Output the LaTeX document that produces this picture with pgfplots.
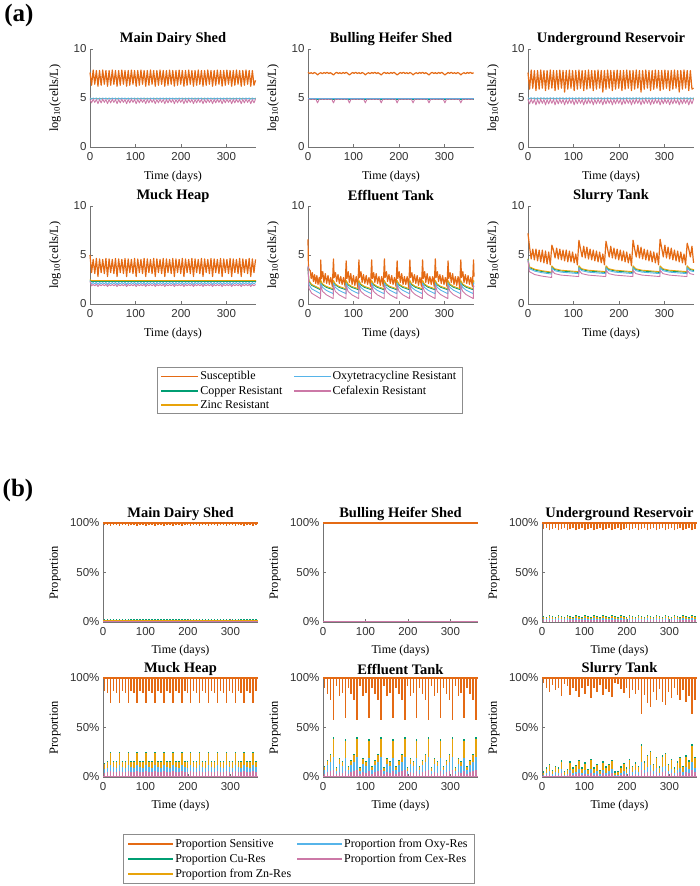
\documentclass[border=0pt]{standalone}
\usepackage{fontspec}
\setmainfont{Liberation Serif}
\newfontfamily\tickfont{Liberation Sans}
\usepackage{pgfplots}
\usepackage{pgfplotstable}
\pgfplotsset{compat=1.18}

\definecolor{cS}{RGB}{228,106,20}
\definecolor{cCu}{RGB}{0,158,115}
\definecolor{cZn}{RGB}{232,163,10}
\definecolor{cOx}{RGB}{86,180,233}
\definecolor{cCx}{RGB}{204,121,167}

% (a) weekly cycles: Main Dairy Shed (a*), Bulling Heifer (b*), Underground (u*), Muck Heap (h*), Slurry susceptible (sS)
\pgfplotstableread{
t aS aO aC bS bC uS uO uC hS hO hC sS
0 7.6 5.0 4.85 7.62 4.88 7.6 5.02 4.85 5.0 2.35 2.3 7.2
3.5 6.3 4.88 4.5 7.5 4.86 5.9 4.9 4.4 3.2 2.05 1.85 5.8
7 7.85 5.0 4.88 7.58 4.88 7.85 5.03 4.88 4.55 2.2 2.0 4.6
10.5 6.4 4.9 4.55 7.48 4.86 6.0 4.92 4.45 3.1 2.05 1.85 5.6
14 7.8 5.0 4.85 7.6 4.88 7.8 5.02 4.85 4.65 2.22 2.02 4.5
17.5 6.2 4.86 4.42 7.52 4.86 5.75 4.88 4.3 2.8 2.0 1.78 5.6
21 7.8 5.0 4.85 7.35 4.5 7.8 5.02 4.85 4.6 2.2 2.0 4.4
24.5 6.3 4.88 4.5 7.5 4.86 5.9 4.9 4.4 3.2 2.05 1.85 5.5
28 7.85 5.0 4.88 7.58 4.88 7.85 5.03 4.88 4.55 2.2 2.0 4.3
31.5 6.4 4.9 4.55 7.48 4.86 6.0 4.92 4.45 3.1 2.05 1.85 5.5
35 7.8 5.0 4.85 7.6 4.88 7.8 5.02 4.85 4.65 2.22 2.02 4.2
38.5 6.2 4.86 4.42 7.52 4.86 5.75 4.88 4.3 2.8 2.0 1.78 5.4
42 7.8 5.0 4.85 7.62 4.88 7.8 5.02 4.85 4.6 2.2 2.0 4.1
45.5 6.3 4.88 4.5 7.5 4.86 5.9 4.9 4.4 3.2 2.05 1.85 5.3
49 7.85 5.0 4.88 7.58 4.88 7.85 5.03 4.88 4.55 2.2 2.0 4.0
52.5 6.4 4.9 4.55 7.48 4.86 6.0 4.92 4.45 3.1 2.05 1.85 6.0
56 7.8 5.0 4.85 7.35 4.5 7.8 5.02 4.85 4.65 2.22 2.02 5.5
59.5 6.2 4.86 4.42 7.52 4.86 5.75 4.88 4.3 2.8 2.0 1.78 4.7
63 7.8 5.0 4.85 7.62 4.88 7.8 5.02 4.85 4.6 2.2 2.0 5.7
66.5 6.3 4.88 4.5 7.5 4.86 5.9 4.9 4.4 3.2 2.05 1.85 4.6
70 7.85 5.0 4.88 7.58 4.88 7.85 5.03 4.88 4.55 2.2 2.0 5.6
73.5 6.4 4.9 4.55 7.48 4.86 6.0 4.92 4.45 3.1 2.05 1.85 4.5
77 7.8 5.0 4.85 7.6 4.88 7.8 5.02 4.85 4.65 2.22 2.02 5.5
80.5 6.2 4.86 4.42 7.52 4.86 5.6 4.88 4.3 2.8 2.0 1.78 4.4
84 7.8 5.0 4.85 7.62 4.88 7.8 5.02 4.85 4.6 2.2 2.0 5.5
87.5 6.3 4.88 4.5 7.5 4.86 5.9 4.9 4.4 3.2 2.05 1.85 4.3
91 7.85 5.0 4.88 7.35 4.5 7.85 5.03 4.88 4.55 2.2 2.0 5.4
94.5 6.4 4.9 4.55 7.48 4.86 6.0 4.92 4.45 3.1 2.05 1.85 4.3
98 7.8 5.0 4.85 7.6 4.88 7.8 5.02 4.85 4.65 2.22 2.02 5.3
101.5 6.2 4.86 4.42 7.52 4.86 5.75 4.88 4.3 2.8 2.0 1.78 4.2
105 7.8 5.0 4.85 7.62 4.88 7.8 5.02 4.85 4.6 2.2 2.0 5.1
108.5 6.3 4.88 4.5 7.5 4.86 5.9 4.9 4.4 3.2 2.05 1.85 4.0
112 7.85 5.0 4.88 7.58 4.88 7.85 5.03 4.88 4.55 2.2 2.0 6.5
115.5 6.4 4.9 4.55 7.48 4.86 6.0 4.92 4.45 3.1 2.05 1.85 5.6
119 7.8 5.0 4.85 7.6 4.88 7.8 5.02 4.85 4.65 2.22 2.02 4.8
122.5 6.2 4.86 4.42 7.52 4.86 5.75 4.88 4.3 2.8 2.0 1.78 5.9
126 7.8 5.0 4.85 7.35 4.5 7.8 5.02 4.85 4.6 2.2 2.0 4.7
129.5 6.3 4.88 4.5 7.5 4.86 5.9 4.9 4.4 3.2 2.05 1.85 5.8
133 7.85 5.0 4.88 7.58 4.88 7.85 5.03 4.88 4.55 2.2 2.0 4.6
136.5 6.4 4.9 4.55 7.48 4.86 6.0 4.92 4.45 3.1 2.05 1.85 5.6
140 7.8 5.0 4.85 7.6 4.88 7.8 5.02 4.85 4.65 2.22 2.02 4.5
143.5 6.2 4.86 4.42 7.52 4.86 5.75 4.88 4.3 2.8 2.0 1.78 5.5
147 7.8 5.0 4.85 7.62 4.88 7.8 5.02 4.85 4.6 2.2 2.0 4.4
150.5 6.3 4.88 4.5 7.5 4.86 5.9 4.9 4.4 3.2 2.05 1.85 5.4
154 7.85 5.0 4.88 7.58 4.88 7.85 5.03 4.88 4.55 2.2 2.0 4.3
157.5 6.4 4.9 4.55 7.48 4.86 6.0 4.92 4.45 3.1 2.05 1.85 5.3
161 7.8 5.0 4.85 7.35 4.5 7.8 5.02 4.85 4.65 2.22 2.02 4.2
164.5 6.2 4.86 4.42 7.52 4.86 5.6 4.88 4.3 2.8 2.0 1.78 5.1
168 7.8 5.0 4.85 7.62 4.88 7.8 5.02 4.85 4.6 2.2 2.0 4.0
171.5 6.3 4.88 4.5 7.5 4.86 5.9 4.9 4.4 3.2 2.05 1.85 6.4
175 7.85 5.0 4.88 7.58 4.88 7.85 5.03 4.88 4.55 2.2 2.0 5.6
178.5 6.4 4.9 4.55 7.48 4.86 6.0 4.92 4.45 3.1 2.05 1.85 4.8
182 7.8 5.0 4.85 7.6 4.88 7.8 5.02 4.85 4.65 2.22 2.02 5.9
185.5 6.2 4.86 4.42 7.52 4.86 5.75 4.88 4.3 2.8 2.0 1.78 4.7
189 7.8 5.0 4.85 7.62 4.88 7.8 5.02 4.85 4.6 2.2 2.0 5.7
192.5 6.3 4.88 4.5 7.5 4.86 5.9 4.9 4.4 3.2 2.05 1.85 4.6
196 7.85 5.0 4.88 7.35 4.5 7.85 5.03 4.88 4.55 2.2 2.0 5.6
199.5 6.4 4.9 4.55 7.48 4.86 6.0 4.92 4.45 3.1 2.05 1.85 4.5
203 7.8 5.0 4.85 7.6 4.88 7.8 5.02 4.85 4.65 2.22 2.02 5.5
206.5 6.2 4.86 4.42 7.52 4.86 5.75 4.88 4.3 2.8 2.0 1.78 4.4
210 7.8 5.0 4.85 7.62 4.88 7.8 5.02 4.85 4.6 2.2 2.0 5.4
213.5 6.3 4.88 4.5 7.5 4.86 5.9 4.9 4.4 3.2 2.05 1.85 4.3
217 7.85 5.0 4.88 7.58 4.88 7.85 5.03 4.88 4.55 2.2 2.0 5.3
220.5 6.4 4.9 4.55 7.48 4.86 6.0 4.92 4.45 3.1 2.05 1.85 4.2
224 7.8 5.0 4.85 7.6 4.88 7.8 5.02 4.85 4.65 2.22 2.02 5.1
227.5 6.2 4.86 4.42 7.52 4.86 5.75 4.88 4.3 2.8 2.0 1.78 3.9
231 7.8 5.0 4.85 7.35 4.5 7.8 5.02 4.85 4.6 2.2 2.0 6.5
234.5 6.3 4.88 4.5 7.5 4.86 5.9 4.9 4.4 3.2 2.05 1.85 5.6
238 7.85 5.0 4.88 7.58 4.88 7.85 5.03 4.88 4.55 2.2 2.0 4.8
241.5 6.4 4.9 4.55 7.48 4.86 6.0 4.92 4.45 3.1 2.05 1.85 6.0
245 7.8 5.0 4.85 7.6 4.88 7.8 5.02 4.85 4.65 2.22 2.02 4.7
248.5 6.2 4.86 4.42 7.52 4.86 5.6 4.88 4.3 2.8 2.0 1.78 5.8
252 7.8 5.0 4.85 7.62 4.88 7.8 5.02 4.85 4.6 2.2 2.0 4.6
255.5 6.3 4.88 4.5 7.5 4.86 5.9 4.9 4.4 3.2 2.05 1.85 5.6
259 7.85 5.0 4.88 7.58 4.88 7.85 5.03 4.88 4.55 2.2 2.0 4.5
262.5 6.4 4.9 4.55 7.48 4.86 6.0 4.92 4.45 3.1 2.05 1.85 5.5
266 7.8 5.0 4.85 7.35 4.5 7.8 5.02 4.85 4.65 2.22 2.02 4.4
269.5 6.2 4.86 4.42 7.52 4.86 5.75 4.88 4.3 2.8 2.0 1.78 5.4
273 7.8 5.0 4.85 7.62 4.88 7.8 5.02 4.85 4.6 2.2 2.0 4.3
276.5 6.3 4.88 4.5 7.5 4.86 5.9 4.9 4.4 3.2 2.05 1.85 5.3
280 7.85 5.0 4.88 7.58 4.88 7.85 5.03 4.88 4.55 2.2 2.0 4.2
283.5 6.4 4.9 4.55 7.48 4.86 6.0 4.92 4.45 3.1 2.05 1.85 5.2
287 7.8 5.0 4.85 7.6 4.88 7.8 5.02 4.85 4.65 2.22 2.02 4.0
290.5 6.2 4.86 4.42 7.52 4.86 5.75 4.88 4.3 2.8 2.0 1.78 6.6
294 7.8 5.0 4.85 7.62 4.88 7.8 5.02 4.85 4.6 2.2 2.0 5.7
297.5 6.3 4.88 4.5 7.5 4.86 5.9 4.9 4.4 3.2 2.05 1.85 4.8
301 7.85 5.0 4.88 7.35 4.5 7.85 5.03 4.88 4.55 2.2 2.0 6.0
304.5 6.4 4.9 4.55 7.48 4.86 6.0 4.92 4.45 3.1 2.05 1.85 4.7
308 7.8 5.0 4.85 7.6 4.88 7.8 5.02 4.85 4.65 2.22 2.02 5.8
311.5 6.2 4.86 4.42 7.52 4.86 5.75 4.88 4.3 2.8 2.0 1.78 4.6
315 7.8 5.0 4.85 7.62 4.88 7.8 5.02 4.85 4.6 2.2 2.0 5.7
318.5 6.3 4.88 4.5 7.5 4.86 5.9 4.9 4.4 3.2 2.05 1.85 4.5
322 7.85 5.0 4.88 7.58 4.88 7.85 5.03 4.88 4.55 2.2 2.0 5.5
325.5 6.4 4.9 4.55 7.48 4.86 6.0 4.92 4.45 3.1 2.05 1.85 4.4
329 7.8 5.0 4.85 7.6 4.88 7.8 5.02 4.85 4.65 2.22 2.02 5.4
332.5 6.2 4.86 4.42 7.52 4.86 5.6 4.88 4.3 2.8 2.0 1.78 4.3
336 7.8 5.0 4.85 7.35 4.5 7.8 5.02 4.85 4.6 2.2 2.0 5.3
339.5 6.3 4.88 4.5 7.5 4.86 5.9 4.9 4.4 3.2 2.05 1.85 4.2
343 7.85 5.0 4.88 7.58 4.88 7.85 5.03 4.88 4.55 2.2 2.0 5.1
346.5 6.4 4.9 4.55 7.48 4.86 6.0 4.92 4.45 3.1 2.05 1.85 4.0
350 7.8 5.0 4.85 7.6 4.88 7.8 5.02 4.85 4.65 2.22 2.02 6.2
353.5 6.2 4.86 4.42 7.52 4.86 5.75 4.88 4.3 2.8 2.0 1.78 5.6
357 7.8 5.0 4.85 7.62 4.88 7.8 5.02 4.85 4.6 2.2 2.0 4.8
360.5 6.3 4.88 4.5 7.5 4.86 5.9 4.9 4.4 3.2 2.05 1.85 5.9
364 6.8 5.0 4.88 7.58 4.88 6.0 5.03 4.88 4.55 2.2 2.0 4.2
}\tabA

% Effluent tank, resistant strains (4-week refills)
\pgfplotstableread{
t Cu Zn Ox Cx
0 3.7 3.7 3.8 3.9
2 2.3 2.4 2.0 1.6
8 1.9 2.0 1.55 1.1
27.5 1.45 1.55 1.05 0.55
28 2.3 2.4 2.15 1.9
32 1.95 2.05 1.7 1.3
40 1.7 1.8 1.4 0.95
55.5 1.45 1.55 1.05 0.55
56 2.3 2.4 2.15 1.9
60 1.95 2.05 1.7 1.3
68 1.7 1.8 1.4 0.95
83.5 1.45 1.55 1.05 0.55
84 2.3 2.4 2.15 1.9
88 1.95 2.05 1.7 1.3
96 1.7 1.8 1.4 0.95
111.5 1.45 1.55 1.05 0.55
112 2.3 2.4 2.15 1.9
116 1.95 2.05 1.7 1.3
124 1.7 1.8 1.4 0.95
139.5 1.45 1.55 1.05 0.55
140 2.3 2.4 2.15 1.9
144 1.95 2.05 1.7 1.3
152 1.7 1.8 1.4 0.95
167.5 1.45 1.55 1.05 0.55
168 2.3 2.4 2.15 1.9
172 1.95 2.05 1.7 1.3
180 1.7 1.8 1.4 0.95
195.5 1.45 1.55 1.05 0.55
196 2.3 2.4 2.15 1.9
200 1.95 2.05 1.7 1.3
208 1.7 1.8 1.4 0.95
223.5 1.45 1.55 1.05 0.55
224 2.3 2.4 2.15 1.9
228 1.95 2.05 1.7 1.3
236 1.7 1.8 1.4 0.95
251.5 1.45 1.55 1.05 0.55
252 2.3 2.4 2.15 1.9
256 1.95 2.05 1.7 1.3
264 1.7 1.8 1.4 0.95
279.5 1.45 1.55 1.05 0.55
280 2.3 2.4 2.15 1.9
284 1.95 2.05 1.7 1.3
292 1.7 1.8 1.4 0.95
307.5 1.45 1.55 1.05 0.55
308 2.3 2.4 2.15 1.9
312 1.95 2.05 1.7 1.3
320 1.7 1.8 1.4 0.95
335.5 1.45 1.55 1.05 0.55
336 2.3 2.4 2.15 1.9
340 1.95 2.05 1.7 1.3
348 1.7 1.8 1.4 0.95
363.5 1.45 1.55 1.05 0.55
364 2.3 2.4 2.15 1.9
365 2.2 2.3 2.05 1.75
}\tabE

% Slurry tank, resistant strains
\pgfplotstableread{
t Cu Zn Ox Cx
0 4.6 4.6 4.5 4.4
3 3.72 3.8 3.6 3.3
15 3.47 3.55 3.35 3.0
30 3.32 3.4 3.2 2.85
52 3.17 3.25 3.05 2.7
52.5 3.82 3.9 3.7 3.45
58.5 3.52 3.6 3.4 3.1
72.5 3.37 3.45 3.25 2.95
111.5 3.22 3.3 3.1 2.8
112 3.82 3.9 3.7 3.45
118 3.52 3.6 3.4 3.1
132 3.37 3.45 3.25 2.95
171 3.22 3.3 3.1 2.8
171.5 3.82 3.9 3.7 3.45
177.5 3.52 3.6 3.4 3.1
191.5 3.37 3.45 3.25 2.95
230.5 3.22 3.3 3.1 2.8
231 3.82 3.9 3.7 3.45
237 3.52 3.6 3.4 3.1
251 3.37 3.45 3.25 2.95
290 3.22 3.3 3.1 2.8
290.5 3.82 3.9 3.7 3.45
296.5 3.52 3.6 3.4 3.1
310.5 3.37 3.45 3.25 2.95
349.5 3.22 3.3 3.1 2.8
350 3.82 3.9 3.7 3.45
356 3.52 3.6 3.4 3.1
365 3.42 3.5 3.3 3.0
}\tabS

% (b) weekly proportions (%): m=Main Dairy, u=Underground, h=Muck Heap, e=Effluent, s=Slurry
\pgfplotstableread{
t mS mCu uS uCu uZn uOx uCx hS hCu hZn hOx hCx eS eCu eZn eOx eCx sS sCu sZn sOx sCx
3.5 97.5 2.8 94 6.0 5.3 3.4 1.8 87 14 13 8 4 90 11.5 10 7 3.5 95 6 4.5 2.5 1.2
10.5 97.8 2.6 95 5.2 4.5 3.0 1.6 85 15.8 15 9.5 4.6 84 17.5 16 12 5 90 10 8.5 4.5 2.2
17.5 97.2 3.0 92.5 7.2 6.4 4.0 2.2 75 25.5 24.5 12.5 6.2 78 23.5 22 15 6 86 13.5 12 6 3
24.5 97.5 2.8 94 6.0 5.3 3.4 1.8 87 15.8 15 10.5 5 58 40 38 20 7 93 7.5 6 3 1.5
31.5 97.8 2.6 95 5.2 4.5 3.0 1.6 85 15.8 15 9.5 4.6 92 10.5 9 6 3 88 11.5 10 5 2.5
38.5 97.2 3.0 92.5 7.2 6.4 4.0 2.2 75 25.5 24.5 12.5 6.2 82 19.5 18 13 5 90 10 8.5 4.5 2.2
45.5 97.5 2.8 94 6.0 5.3 3.4 1.8 87 15.8 15 10.5 5 85 16.5 15 11 4.5 82 17 15.5 8 4
52.5 97.8 2.6 95 5.2 4.5 3.0 1.6 85 15.8 15 9.5 4.6 60 38 36 19 6.5 94 6.5 5 2.5 1.3
59.5 97.2 3.0 92.5 7.2 6.4 4.0 2.2 75 25.5 24.5 12.5 6.2 90 11.5 10 7 3.5 92 8.5 7 3.5 1.8
66.5 97.5 2.8 94 6.0 5.3 3.4 1.8 87 15.8 15 10.5 5 84 17.5 16 12 5 83 16 14.5 7 3.6
73.5 97.8 2.6 95 5.2 4.5 3.0 1.6 85 15.8 15 9.5 4.6 78 23.5 22 15 6 90 10 8.5 4.5 2.2
80.5 97.2 3.0 92.5 7.2 6.4 4.0 2.2 75 25.5 24.5 12.5 6.2 58 40 38 20 7 87 12.5 11 5.5 2.8
87.5 97.5 2.8 94 6.0 5.3 3.4 1.8 87 15.8 15 10.5 5 92 10.5 9 6 3 81 17.5 16 8 4
94.5 97.8 2.6 95 5.2 4.5 3.0 1.6 85 15.8 15 9.5 4.6 82 19.5 18 13 5 90 10 8.5 4.5 2.2
101.5 97.2 3.0 92.5 7.2 6.4 4.0 2.2 75 25.5 24.5 12.5 6.2 85 16.5 15 11 4.5 84 15 13.5 7 3.4
108.5 97.5 2.8 94 6.0 5.3 3.4 1.8 87 15.8 15 10.5 5 60 38 36 19 6.5 92 8.5 7 3.5 1.8
115.5 97.8 2.6 95 5.2 4.5 3.0 1.6 85 15.8 15 9.5 4.6 90 11.5 10 7 3.5 80 18.5 17 8.5 4.2
122.5 97.2 3.0 92.5 7.2 6.4 4.0 2.2 75 25.5 24.5 12.5 6.2 84 17.5 16 12 5 90 10 8.5 4.5 2.2
129.5 97.5 2.8 94 6.0 5.3 3.4 1.8 87 15.8 15 10.5 5 78 23.5 22 15 6 86 13.5 12 6 3
136.5 97.8 2.6 95 5.2 4.5 3.0 1.6 85 15.8 15 9.5 4.6 58 40 38 20 7 93 7.5 6 3 1.5
143.5 97.2 3.0 92.5 7.2 6.4 4.0 2.2 75 25.5 24.5 12.5 6.2 92 10.5 9 6 3 83 16 14.5 7 3.6
150.5 97.5 2.8 94 6.0 5.3 3.4 1.8 87 15.8 15 10.5 5 82 19.5 18 13 5 89 11 9.5 4.5 2.4
157.5 97.8 2.6 95 5.2 4.5 3.0 1.6 85 15.8 15 9.5 4.6 85 16.5 15 11 4.5 86 13.5 12 6 3
164.5 97.2 3.0 92.5 7.2 6.4 4.0 2.2 75 25.5 24.5 12.5 6.2 60 38 36 19 6.5 81 17.5 16 8 4
171.5 97.5 2.8 94 6.0 5.3 3.4 1.8 87 15.8 15 10.5 5 90 11.5 10 7 3.5 95 6 4.5 2.5 1.2
178.5 97.8 2.6 95 5.2 4.5 3.0 1.6 85 15.8 15 9.5 4.6 84 17.5 16 12 5 94 6.5 5 2.5 1.3
185.5 97.2 3.0 92.5 7.2 6.4 4.0 2.2 75 25.5 24.5 12.5 6.2 78 23.5 22 15 6 89 11 9.5 4.5 2.4
192.5 97.5 2.8 94 6.0 5.3 3.4 1.8 87 15.8 15 10.5 5 58 40 38 20 7 85 14.5 13 6.5 3.2
199.5 97.8 2.6 95 5.2 4.5 3.0 1.6 85 15.8 15 9.5 4.6 92 10.5 9 6 3 90 10 8.5 4.5 2.2
206.5 97.2 3.0 92.5 7.2 6.4 4.0 2.2 75 25.5 24.5 12.5 6.2 82 19.5 18 13 5 80 18.5 17 8.5 4.2
213.5 97.5 2.8 94 6.0 5.3 3.4 1.8 87 15.8 15 10.5 5 85 16.5 15 11 4.5 88 11.5 10 5 2.5
220.5 97.8 2.6 95 5.2 4.5 3.0 1.6 85 15.8 15 9.5 4.6 60 38 36 19 6.5 84 15 13.5 7 3.4
227.5 97.2 3.0 92.5 7.2 6.4 4.0 2.2 75 25.5 24.5 12.5 6.2 90 11.5 10 7 3.5 88 11.5 10 5 2.5
234.5 97.5 2.8 94 6.0 5.3 3.4 1.8 87 15.8 15 10.5 5 84 17.5 16 12 5 64 33 31 15.5 7.5
241.5 97.8 2.6 95 5.2 4.5 3.0 1.6 85 15.8 15 9.5 4.6 78 23.5 22 15 6 83 16 14.5 7 3.6
248.5 97.2 3.0 92.5 7.2 6.4 4.0 2.2 75 25.5 24.5 12.5 6.2 58 40 38 20 7 75 22.5 21 10.5 5.2
255.5 97.5 2.8 94 6.0 5.3 3.4 1.8 87 15.8 15 10.5 5 92 10.5 9 6 3 71 26.5 25 12.5 6.2
262.5 97.8 2.6 95 5.2 4.5 3.0 1.6 85 15.8 15 9.5 4.6 82 19.5 18 13 5 86 13.5 12 6 3
269.5 97.2 3.0 92.5 7.2 6.4 4.0 2.2 75 25.5 24.5 12.5 6.2 85 16.5 15 11 4.5 78 20.5 19 9.5 4.8
276.5 97.5 2.8 94 6.0 5.3 3.4 1.8 87 15.8 15 10.5 5 60 38 36 19 6.5 89 11 9.5 4.5 2.4
283.5 97.8 2.6 95 5.2 4.5 3.0 1.6 85 15.8 15 9.5 4.6 90 11.5 10 7 3.5 76 22 20.5 10 5
290.5 97.2 3.0 92.5 7.2 6.4 4.0 2.2 75 25.5 24.5 12.5 6.2 84 17.5 16 12 5 73 24.5 23 11.5 5.8
297.5 97.5 2.8 94 6.0 5.3 3.4 1.8 87 15.8 15 10.5 5 78 23.5 22 15 6 86 13.5 12 6 3
304.5 97.8 2.6 95 5.2 4.5 3.0 1.6 85 15.8 15 9.5 4.6 58 40 38 20 7 80 18.5 17 8.5 4.2
311.5 97.2 3.0 92.5 7.2 6.4 4.0 2.2 75 25.5 24.5 12.5 6.2 92 10.5 9 6 3 90 10 8.5 4.5 2.2
318.5 97.5 2.8 94 6.0 5.3 3.4 1.8 87 15.8 15 10.5 5 82 19.5 18 13 5 83 16 14.5 7 3.6
325.5 97.8 2.6 95 5.2 4.5 3.0 1.6 85 15.8 15 9.5 4.6 85 16.5 15 11 4.5 78 20.5 19 9.5 4.8
332.5 97.2 3.0 92.5 7.2 6.4 4.0 2.2 75 25.5 24.5 12.5 6.2 60 38 36 19 6.5 88 11.5 10 5 2.5
339.5 97.5 2.8 94 6.0 5.3 3.4 1.8 87 15.8 15 10.5 5 90 11.5 10 7 3.5 76 22 20.5 10 5
346.5 97.8 2.6 95 5.2 4.5 3.0 1.6 85 15.8 15 9.5 4.6 84 17.5 16 12 5 82 17 15.5 8 4
353.5 97.2 3.0 92.5 7.2 6.4 4.0 2.2 75 25.5 24.5 12.5 6.2 78 23.5 22 15 6 64 33 31 15.5 7.5
360.5 97.5 2.8 94 6.0 5.3 3.4 1.8 87 15.8 15 10.5 5 58 40 38 20 7 78 20.5 19 9.5 4.8
}\tabB

\pgfplotsset{
  pbase/.style={scale only axis, anchor=south west, xmin=0, xmax=365, xtick={0,100,200,300},
    axis lines=left, axis line style={-, draw=black!55, line width=0.6pt},
    tick style={draw=black!55, line width=0.5pt}, tick align=inside, major tick length=2.5pt,
    tick label style={font=\tickfont\fontsize{11.5}{12}\selectfont, text=black!80},
    xticklabel style={yshift=-2pt},
    /pgf/number format/assume math mode=true,
    title style={font=\bfseries\fontsize{14.5}{16}\selectfont, anchor=center},
    xlabel={Time (days)}, xlabel style={font=\fontsize{12}{13}\selectfont, anchor=center},
    ylabel style={font=\fontsize{12.5}{14}\selectfont, anchor=center},
    clip=false},
  pa/.style={pbase, width=166pt, height=98pt, ymin=0, ymax=10, ytick={0,5,10},
    ylabel={log\textsubscript{10}(cells/L)},
    title style={at={(axis description cs:0.5,1.045)}},
    xlabel style={at={(axis description cs:0.5,-0.305)}},
    ylabel style={at={(axis description cs:-0.21,0.5)}}},
  pb/.style={pbase, width=155pt, height=99pt, ymin=0, ymax=100, ytick={0,50,100},
    yticklabels={0\%,50\%,100\%}, ylabel={Proportion},
    title style={at={(axis description cs:0.5,1.03)}},
    xlabel style={at={(axis description cs:0.5,-0.285)}},
    ylabel style={at={(axis description cs:-0.31,0.5)}}},
  lS/.style={cS, line width=1.2pt, line join=round, mark=none},
  lCu/.style={cCu, line width=0.9pt, line join=round, mark=none},
  lZn/.style={cZn, line width=0.9pt, line join=round, mark=none},
  lOx/.style={cOx, line width=0.9pt, line join=round, mark=none},
  lCx/.style={cCx, line width=0.9pt, line join=round, mark=none},
  comb/.style={ycomb, mark=none, line width=1.5pt},
  errS/.style={draw=none, mark=none, error bars/y dir=plus, error bars/y explicit,
    error bars/error mark=none, error bars/error bar style={draw=cS, solid, line width=1.5pt}},
}

\begin{document}
\begin{tikzpicture}
\path[use as bounding box] (0pt,0pt) rectangle (700pt,886pt);
\node[font=\bfseries\fontsize{25}{28}\selectfont] at (19pt,871pt) {(a)};
\node[font=\bfseries\fontsize{25}{28}\selectfont] at (18pt,396pt) {(b)};

% ---------------- (a) ----------------
\begin{axis}[pa, at={(90pt,739pt)}, title={Main Dairy Shed}]
\addplot[lS] table[x=t,y=aS]\tabA;
\addplot[lCu] coordinates {(0,4.93)(365,4.93)};
\addplot[lZn] coordinates {(0,4.97)(365,4.97)};
\addplot[lOx] table[x=t,y=aO]\tabA;
\addplot[lCx] table[x=t,y=aC]\tabA;
\end{axis}

\begin{axis}[pa, at={(308pt,739pt)}, title={Bulling Heifer Shed}]
\addplot[lS] table[x=t,y=bS]\tabA;
\addplot[lCu] coordinates {(0,4.9)(365,4.9)};
\addplot[lZn] coordinates {(0,4.93)(365,4.93)};
\addplot[lOx] coordinates {(0,4.95)(365,4.95)};
\addplot[lCx] table[x=t,y=bC]\tabA;
\end{axis}

\begin{axis}[pa, at={(528pt,739pt)}, title={Underground Reservoir}]
\addplot[lS] table[x=t,y=uS]\tabA;
\addplot[lCu] coordinates {(0,4.95)(365,4.95)};
\addplot[lZn] coordinates {(0,4.98)(365,4.98)};
\addplot[lOx] table[x=t,y=uO]\tabA;
\addplot[lCx] table[x=t,y=uC]\tabA;
\end{axis}

\begin{axis}[pa, at={(90pt,582pt)}, title={Muck Heap}]
\addplot[lS] table[x=t,y=hS]\tabA;
\addplot[lCu] coordinates {(0,2.45)(3,2.3)(365,2.3)};
\addplot[lZn] coordinates {(0,2.5)(3,2.38)(365,2.38)};
\addplot[lOx] table[x=t,y=hO]\tabA;
\addplot[lCx] table[x=t,y=hC]\tabA;
\end{axis}

\begin{axis}[pa, at={(308pt,582pt)}, title={Effluent Tank}]
\addplot[lS] coordinates {(0,6.6)(1,3.7)(3,3.5)(5,3.4)(7,2.6)(9.5,3.2)(12,2.3)(14.5,3.0)(17,2.1)(19.5,2.9)(22,2.0)(24.5,2.7)(27.5,1.8)
(28,4.5)(29.5,2.6)(32.5,3.3)(35,2.2)(38,3.1)(41,2.1)(44,2.9)(47,2.0)(50,2.7)(53.5,1.8)
(56,4.6)(57.5,2.7)(60.5,3.2)(63,2.3)(66,3.0)(69,2.1)(72,2.8)(75,2.0)(78,2.7)(81.5,1.8)
(84,4.4)(85.5,2.6)(88.5,3.3)(91,2.2)(94,3.1)(97,2.0)(100,2.9)(103,1.9)(106,2.8)(109.5,1.7)
(112,4.5)(113.5,2.7)(116.5,3.3)(119,2.2)(122,3.0)(125,2.1)(128,2.9)(131,2.0)(134,2.7)(137.5,1.8)
(140,4.5)(141.5,2.6)(144.5,3.2)(147,2.2)(150,3.1)(153,2.1)(156,2.8)(159,1.9)(162,2.8)(165.5,1.8)
(168,4.6)(169.5,2.7)(172.5,3.3)(175,2.3)(178,3.0)(181,2.1)(184,2.9)(187,2.0)(190,2.7)(193.5,1.8)
(196,4.4)(197.5,2.6)(200.5,3.3)(203,2.2)(206,3.1)(209,2.0)(212,2.8)(215,2.0)(218,2.8)(221.5,1.7)
(224,4.5)(225.5,2.7)(228.5,3.2)(231,2.2)(234,3.0)(237,2.1)(240,2.9)(243,1.9)(246,2.7)(249.5,1.8)
(252,4.5)(253.5,2.6)(256.5,3.3)(259,2.2)(262,3.1)(265,2.1)(268,2.8)(271,2.0)(274,2.8)(277.5,1.8)
(280,4.6)(281.5,2.7)(284.5,3.3)(287,2.3)(290,3.0)(293,2.1)(296,2.9)(299,2.0)(302,2.7)(305.5,1.8)
(308,4.4)(309.5,2.6)(312.5,3.2)(315,2.2)(318,3.1)(321,2.0)(324,2.8)(327,1.9)(330,2.8)(333.5,1.7)
(336,4.5)(337.5,2.7)(340.5,3.3)(343,2.2)(346,3.0)(349,2.1)(352,2.9)(355,2.0)(358,2.7)(361.5,1.8)
(364,4.5)(365,2.8)};
\addplot[lCu] table[x=t,y=Cu]\tabE;
\addplot[lZn] table[x=t,y=Zn]\tabE;
\addplot[lOx] table[x=t,y=Ox]\tabE;
\addplot[lCx] table[x=t,y=Cx]\tabE;
\end{axis}

\begin{axis}[pa, at={(528pt,582pt)}, title={Slurry Tank}]
\addplot[lS] table[x=t,y=sS]\tabA;
\addplot[lCu] table[x=t,y=Cu]\tabS;
\addplot[lZn] table[x=t,y=Zn]\tabS;
\addplot[lOx] table[x=t,y=Ox]\tabS;
\addplot[lCx] table[x=t,y=Cx]\tabS;
\end{axis}

\begin{axis}[scale only axis, width=10pt, height=10pt, at={(157pt,472pt)}, anchor=south west,
  hide axis, xmin=0, xmax=1, ymin=0, ymax=1,
  legend image code/.code={\fill[#1, draw=none] (0pt,-0.8pt) rectangle (37pt,0.8pt);},
  legend columns=2, legend cell align=left,
  legend style={at={(0,0)}, anchor=south west, draw=black!45, line width=0.5pt,
    font=\fontsize{12}{14}\selectfont, inner xsep=4pt, inner ysep=2pt, row sep=0.5pt,
    /tikz/every even column/.append style={column sep=9pt}}]
\addlegendimage{fill=cS}\addlegendentry{Susceptible}
\addlegendimage{fill=cOx}\addlegendentry{Oxytetracycline Resistant}
\addlegendimage{fill=cCu}\addlegendentry{Copper Resistant}
\addlegendimage{fill=cCx}\addlegendentry{Cefalexin Resistant}
\addlegendimage{fill=cZn}\addlegendentry{Zinc Resistant}
\end{axis}

% ---------------- (b) ----------------
\begin{axis}[pb, at={(103pt,264pt)}, title={Main Dairy Shed}]
\addplot[lS] coordinates {(0,100)(365,100)};
\addplot[errS] table[x=t,y=mS,y error expr=100-\thisrow{mS}]\tabB;
\addplot[lOx] coordinates {(0,0.8)(365,0.8)};
\addplot[comb, cCu] table[x=t,y=mCu]\tabB;
\addplot[lZn] coordinates {(0,1.6)(365,1.6)};
\addplot[lCx] coordinates {(0,0.5)(365,0.5)};
\end{axis}

\begin{axis}[pb, at={(323pt,264pt)}, title={Bulling Heifer Shed}]
\addplot[lS] coordinates {(0,100)(365,100)};
\addplot[lCu] coordinates {(0,0.4)(365,0.4)};
\addplot[lCx] coordinates {(0,0.3)(365,0.3)};
\end{axis}

\begin{axis}[pb, at={(542pt,264pt)}, title={Underground Reservoir}]
\addplot[lS] coordinates {(0,100)(365,100)};
\addplot[errS] table[x=t,y=uS,y error expr=100-\thisrow{uS}]\tabB;
\addplot[comb, cCu] table[x=t,y=uCu]\tabB;
\addplot[comb, cZn] table[x=t,y=uZn]\tabB;
\addplot[comb, cOx] table[x=t,y=uOx]\tabB;
\addplot[comb, cCx] table[x=t,y=uCx]\tabB;
\end{axis}

\begin{axis}[pb, at={(103pt,109pt)}, title={Muck Heap}]
\addplot[lS] coordinates {(0,100)(365,100)};
\addplot[errS] table[x=t,y=hS,y error expr=100-\thisrow{hS}]\tabB;
\addplot[comb, cCu] table[x=t,y=hCu]\tabB;
\addplot[comb, cZn] table[x=t,y=hZn]\tabB;
\addplot[comb, cOx] table[x=t,y=hOx]\tabB;
\addplot[comb, cCx] table[x=t,y=hCx]\tabB;
\addplot[lCx] coordinates {(0,0.5)(365,0.5)};
\end{axis}

\begin{axis}[pb, at={(323pt,109pt)}, title={Effluent Tank}]
\addplot[lS] coordinates {(0,100)(365,100)};
\addplot[errS] table[x=t,y=eS,y error expr=100-\thisrow{eS}]\tabB;
\addplot[comb, cCu] table[x=t,y=eCu]\tabB;
\addplot[comb, cZn] table[x=t,y=eZn]\tabB;
\addplot[comb, cOx] table[x=t,y=eOx]\tabB;
\addplot[comb, cCx] table[x=t,y=eCx]\tabB;
\addplot[lCx] coordinates {(0,0.5)(365,0.5)};
\end{axis}

\begin{axis}[pb, at={(542pt,109pt)}, title={Slurry Tank}]
\addplot[lS] coordinates {(0,100)(365,100)};
\addplot[errS] table[x=t,y=sS,y error expr=100-\thisrow{sS}]\tabB;
\addplot[comb, cCu] table[x=t,y=sCu]\tabB;
\addplot[comb, cZn] table[x=t,y=sZn]\tabB;
\addplot[comb, cOx] table[x=t,y=sOx]\tabB;
\addplot[comb, cCx] table[x=t,y=sCx]\tabB;
\addplot[lCx] coordinates {(0,0.5)(365,0.5)};
\end{axis}

\begin{axis}[scale only axis, width=10pt, height=10pt, at={(123pt,2pt)}, anchor=south west,
  hide axis, xmin=0, xmax=1, ymin=0, ymax=1,
  legend image code/.code={\fill[#1, draw=none] (0pt,-0.8pt) rectangle (45pt,0.8pt);},
  legend columns=2, legend cell align=left,
  legend style={at={(0,0)}, anchor=south west, draw=black!45, line width=0.5pt,
    font=\fontsize{12}{14}\selectfont, inner xsep=5pt, inner ysep=3pt, row sep=1pt,
    /tikz/every even column/.append style={column sep=4pt}}]
\addlegendimage{fill=cS}\addlegendentry{Proportion Sensitive}
\addlegendimage{fill=cOx}\addlegendentry{Proportion from Oxy-Res}
\addlegendimage{fill=cCu}\addlegendentry{Proportion Cu-Res}
\addlegendimage{fill=cCx}\addlegendentry{Proportion from Cex-Res}
\addlegendimage{fill=cZn}\addlegendentry{Proportion from Zn-Res}
\end{axis}
\end{tikzpicture}
\end{document}
